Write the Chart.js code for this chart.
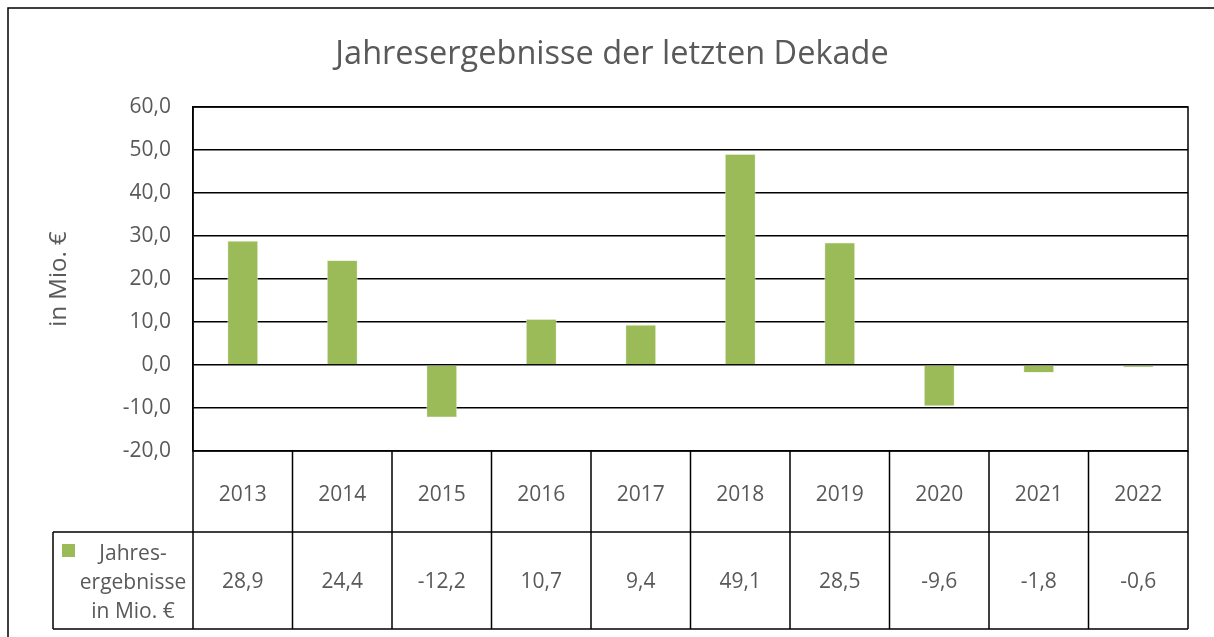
<!DOCTYPE html>
<html>
<head>
<meta charset="utf-8">
<script src="https://cdn.jsdelivr.net/npm/chart.js@4/dist/chart.umd.min.js"></script>
<style>
  html, body { margin: 0; padding: 0; background: #fff; }
  #wrap { width: 1214px; height: 637px; position: relative; }
</style>
</head>
<body>
<div id="wrap"><canvas id="c"></canvas></div>
<script>
const chartTitle = 'Jahresergebnisse der letzten Dekade';
const yAxisTitle = 'in Mio. €';
const categories = ['2013', '2014', '2015', '2016', '2017', '2018', '2019', '2020', '2021', '2022'];
const seriesLabelLines = ['Jahres-', 'ergebnisse', 'in Mio. €'];
const seriesValues = [28.9, 24.4, -12.2, 10.7, 9.4, 49.1, 28.5, -9.6, -1.8, -0.6];
const yTicks = [-20, -10, 0, 10, 20, 30, 40, 50, 60];

const FONT = '"Open Sans", Lato, sans-serif';
const TEXT = '#595959';
const GREEN = '#9BBB59';
const fmt = v => v.toFixed(1).replace('.', ',');

const tablePlugin = {
  id: 'dataTable',
  afterDraw(chart) {
    const ctx = chart.ctx;
    const xs = chart.scales.x;
    const area = chart.chartArea;
    const n = categories.length;
    const w = (xs.right - xs.left) / n;
    const row1Top = area.bottom;
    const row2Top = 532;
    const row2Bot = 629;
    const tableLeft = 53;
    ctx.save();
    ctx.strokeStyle = '#000';
    ctx.lineWidth = 1.5;
    ctx.strokeRect(area.left, area.top, area.right - area.left, area.bottom - area.top);
    ctx.beginPath();
    ctx.moveTo(tableLeft, row2Top); ctx.lineTo(area.right, row2Top);
    ctx.moveTo(tableLeft, row2Bot); ctx.lineTo(area.right, row2Bot);
    ctx.moveTo(tableLeft, row2Top); ctx.lineTo(tableLeft, row2Bot);
    for (let i = 0; i <= n; i++) {
      const x = xs.left + i * w;
      ctx.moveTo(x, row1Top); ctx.lineTo(x, row2Bot);
    }
    ctx.stroke();
    ctx.beginPath();
    ctx.moveTo(8, 1300); ctx.lineTo(8, 8); ctx.lineTo(1300, 8);
    ctx.stroke();
    ctx.fillStyle = GREEN;
    ctx.fillRect(62, 544, 13, 13);
    ctx.fillStyle = TEXT;
    ctx.font = '21px ' + FONT;
    ctx.textAlign = 'center';
    ctx.textBaseline = 'middle';
    const lineYs = [554, 583, 612];
    seriesLabelLines.forEach((t, i) => ctx.fillText(t, 133, lineYs[i]));
    seriesValues.forEach((v, i) => {
      ctx.fillText(fmt(v), xs.getPixelForValue(i), (row2Top + row2Bot) / 2 + 2);
    });
    ctx.restore();
  }
};

new Chart(document.getElementById('c'), {
  type: 'bar',
  data: {
    labels: categories,
    datasets: [{
      label: seriesLabelLines.join(' '),
      data: seriesValues,
      backgroundColor: GREEN,
      borderColor: 'rgba(235,241,222,0.9)',
      borderWidth: 0.8,
      barPercentage: 0.31,
      categoryPercentage: 1
    }]
  },
  options: {
    responsive: true,
    maintainAspectRatio: false,
    animation: false,
    layout: { padding: { top: 0, left: 36, right: 26, bottom: 0 } },
    plugins: {
      legend: { display: false },
      tooltip: { enabled: false },
      title: {
        display: true,
        text: chartTitle,
        color: TEXT,
        font: { family: FONT, size: 32.5, weight: 'normal' },
        padding: { top: 35, bottom: 33 }
      }
    },
    scales: {
      x: {
        grid: { display: false, drawTicks: false },
        border: { display: false },
        ticks: {
          color: TEXT,
          font: { family: FONT, size: 21 },
          padding: 31,
          maxRotation: 0
        },
        afterFit(scale) { scale.height = 186; }
      },
      y: {
        min: -20,
        max: 60,
        afterBuildTicks(scale) { scale.ticks = yTicks.map(v => ({ value: v })); },
        grid: { color: '#000', lineWidth: 1.5, drawTicks: false },
        border: { display: true, color: '#000', width: 1.5 },
        ticks: {
          color: TEXT,
          font: { family: FONT, size: 21 },
          padding: 22,
          callback: v => fmt(v)
        },
        title: {
          display: true,
          text: yAxisTitle,
          color: TEXT,
          font: { family: FONT, size: 24 },
          padding: { top: 9, bottom: 0 }
        },
        afterFit(scale) { scale.width = 157; }
      }
    }
  },
  plugins: [tablePlugin]
});
</script>
</body>
</html>
